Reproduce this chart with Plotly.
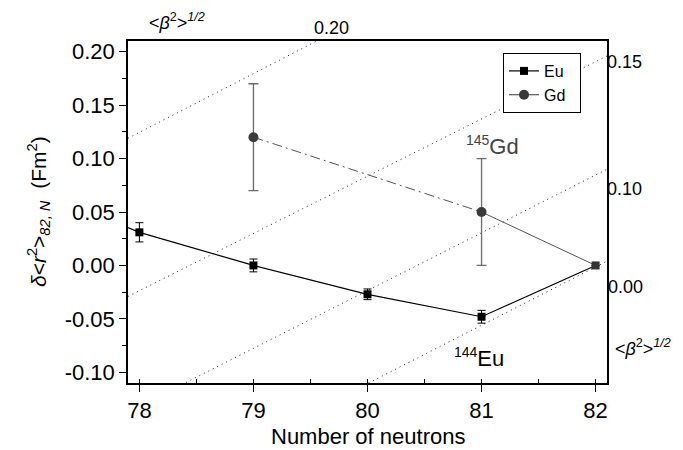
import plotly.graph_objects as go

# ---- data ----
neutrons_eu = [77, 78, 79, 80, 81, 82]
dr2_eu = [0.075, 0.031, 0.000, -0.027, -0.048, 0.0]
err_eu = [0.0, 0.009, 0.006, 0.005, 0.006, 0.0]

neutrons_gd = [79, 81, 82]
dr2_gd = [0.12, 0.05, 0.0]
err_gd = [0.05, 0.05, 0.0]

beta_labels = ["0.20", "0.15", "0.10", "0.00"]
beta_line_x = [77.9, 82.1]
beta_line_y = [[0.119, 0.350], [-0.029, 0.196], [-0.137, 0.090], [-0.225, 0.004]]

x_ticks = [78, 79, 80, 81, 82]
y_ticks = [-0.10, -0.05, 0.00, 0.05, 0.10, 0.15, 0.20]
y_tick_text = ["-0.10", "-0.05", "0.00", "0.05", "0.10", "0.15", "0.20"]

FONT = "Arial, Liberation Sans, sans-serif"
GD_MARK = "#3a3a3a"
GD_LINE = "#555555"
GD_ERR = "#6a6a6a"

fig = go.Figure()

# iso-deformation dotted lines
for yy in beta_line_y:
    fig.add_trace(go.Scatter(x=beta_line_x, y=yy, mode="lines",
                             line=dict(color="#222", width=1, dash="1px,4px"),
                             showlegend=False, hoverinfo="skip"))

# Gd lines
fig.add_trace(go.Scatter(x=neutrons_gd[:2], y=dr2_gd[:2], mode="lines",
                         line=dict(color=GD_LINE, width=1, dash="10px,4px,2px,4px"),
                         showlegend=False))
fig.add_trace(go.Scatter(x=neutrons_gd[1:], y=dr2_gd[1:], mode="lines",
                         line=dict(color=GD_LINE, width=1),
                         showlegend=False))
# Gd markers with errors
fig.add_trace(go.Scatter(x=neutrons_gd[:2], y=dr2_gd[:2], mode="markers",
                         marker=dict(symbol="circle", size=10, color=GD_MARK),
                         error_y=dict(type="data", array=err_gd[:2], color=GD_ERR,
                                      thickness=1.3, width=5),
                         showlegend=False))

# Eu
fig.add_trace(go.Scatter(x=neutrons_eu, y=dr2_eu, mode="lines+markers", name="Eu  ",
                         line=dict(color="black", width=1.2),
                         marker=dict(symbol="square", size=8,
                                     color=["black"] * 5 + ["#333333"]),
                         error_y=dict(type="data", array=err_eu, color="black",
                                      thickness=1, width=4)))
# Gd legend entry
fig.add_trace(go.Scatter(x=[None], y=[None], mode="lines+markers", name="Gd  ",
                         line=dict(color=GD_LINE, width=1.2),
                         marker=dict(symbol="circle", size=10, color=GD_MARK)))

OFF = 8  # page body margin
L, R, T, B = 128, 76, 41, 67      # reference plot area in screen px
W, H = 683, 450
pw, ph = W - L - R, H - T - B
FW, FH = W - OFF, H - OFF


def px(xp):
    return (xp - L) / pw


def py(yp):
    return (H - B - yp) / ph


beta_txt = "&lt;<i>β</i><sup>2</sup>&gt;<sup><i>1/2</i></sup>"

annotations = [
    dict(x=px(177), y=py(22), xref="paper", yref="paper", text=beta_txt,
         showarrow=False, font=dict(size=18, color="black"), xanchor="center", yanchor="middle"),
    dict(x=px(331), y=py(28), xref="paper", yref="paper", text=beta_labels[0],
         showarrow=False, font=dict(size=18, color="black"), xanchor="center", yanchor="middle"),
    dict(x=px(605), y=py(62), xref="paper", yref="paper", text=beta_labels[1],
         showarrow=False, font=dict(size=18, color="black"), xanchor="left", yanchor="middle"),
    dict(x=px(605), y=py(189), xref="paper", yref="paper", text=beta_labels[2],
         showarrow=False, font=dict(size=18, color="black"), xanchor="left", yanchor="middle"),
    dict(x=px(606), y=py(287), xref="paper", yref="paper", text=beta_labels[3],
         showarrow=False, font=dict(size=18, color="black"), xanchor="left", yanchor="middle"),
    dict(x=px(613), y=py(347), xref="paper", yref="paper", text=beta_txt,
         showarrow=False, font=dict(size=18, color="black"), xanchor="left", yanchor="middle"),
    dict(x=81.1, y=0.112, xref="x", yref="y",
         text="<sup><span style='font-size:14px'>145</span></sup>Gd",
         showarrow=False, font=dict(size=22, color="#444444"), xanchor="center", yanchor="middle"),
    dict(x=80.98, y=-0.086, xref="x", yref="y",
         text="<sup><span style='font-size:14px'>144</span></sup>Eu",
         showarrow=False, font=dict(size=22, color="black"), xanchor="center", yanchor="middle"),
    dict(x=px(38), y=0.5, xref="paper", yref="paper", textangle=-90,
         text="<i>δ</i>&lt;<i>r</i><sup>2</sup>&gt;<sub><i>82, N</i></sub>  (Fm<sup>2</sup>)",
         showarrow=False, font=dict(size=21, color="black"), xanchor="center", yanchor="middle"),
    dict(x=0.5, y=py(436), xref="paper", yref="paper", text="Number of neutrons",
         showarrow=False, font=dict(size=22, color="black"), xanchor="center", yanchor="middle"),
]

fig.update_layout(
    width=FW, height=FH,
    margin=dict(l=L - OFF, r=R, t=T - OFF, b=B, pad=0),
    paper_bgcolor="white", plot_bgcolor="white",
    font=dict(family=FONT, color="black"),
    showlegend=True,
    legend=dict(x=px(503), y=py(53), xanchor="left", yanchor="top",
                bordercolor="black", borderwidth=1, bgcolor="white",
                font=dict(size=16), tracegroupgap=0, itemwidth=30),
    annotations=annotations,
)

fig.update_xaxes(range=[77.9, 82.1], tickvals=x_ticks, ticktext=[str(v) for v in x_ticks],
                 ticks="outside", ticklen=7, tickwidth=1.2, tickcolor="black",
                 minor=dict(dtick=0.5, tick0=78, ticks="inside", ticklen=4, tickcolor="black"),
                 showline=True, linecolor="black", linewidth=1.5, mirror=True,
                 showgrid=False, zeroline=False, tickfont=dict(size=22))
fig.update_yaxes(range=[-0.11, 0.21], tickvals=y_ticks, ticktext=y_tick_text,
                 ticks="outside", ticklen=7, tickwidth=1.2, tickcolor="black",
                 minor=dict(dtick=0.025, tick0=0, ticks="outside", ticklen=4, tickcolor="black"),
                 showline=True, linecolor="black", linewidth=1.5, mirror=True,
                 showgrid=False, zeroline=False, tickfont=dict(size=22))

fig.write_html("out.html")
